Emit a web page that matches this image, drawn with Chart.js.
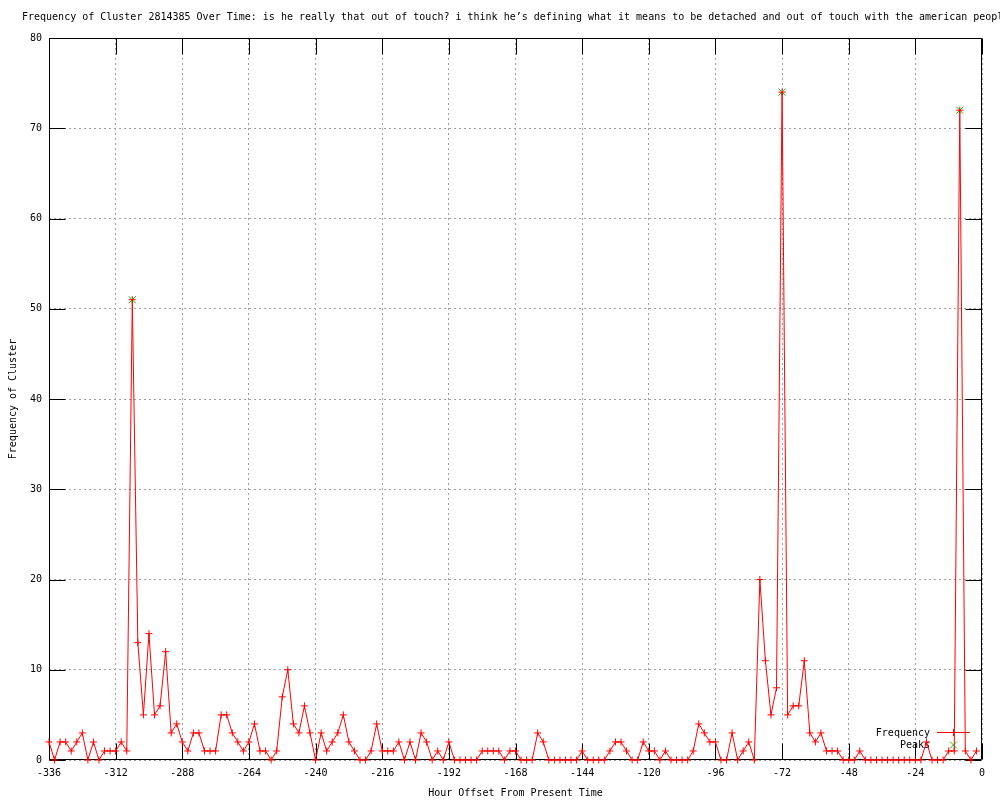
<!DOCTYPE html>
<html>
<head>
<meta charset="utf-8">
<title>Frequency of Cluster 2814385 Over Time</title>
<script src="https://cdn.jsdelivr.net/npm/chart.js@4/dist/chart.umd.min.js"></script>
<style>
    html, body { margin: 0; padding: 0; background: #ffffff; }
    #wrap { width: 1000px; height: 800px; }
</style>
</head>
<body>
<div id="wrap"><canvas id="freqChart" width="1000" height="800"></canvas></div>
<script>
const titleText = "Frequency of Cluster 2814385 Over Time: is he really that out of touch? i think he\u2019s defining what it means to be detached and out of touch with the american people";

// one sample every two hours
const hours = [
    -336, -334, -332, -330, -328, -326, -324, -322, -320, -318, -316, -314,
    -312, -310, -308, -306, -304, -302, -300, -298, -296, -294, -292, -290,
    -288, -286, -284, -282, -280, -278, -276, -274, -272, -270, -268, -266,
    -264, -262, -260, -258, -256, -254, -252, -250, -248, -246, -244, -242,
    -240, -238, -236, -234, -232, -230, -228, -226, -224, -222, -220, -218,
    -216, -214, -212, -210, -208, -206, -204, -202, -200, -198, -196, -194,
    -192, -190, -188, -186, -184, -182, -180, -178, -176, -174, -172, -170,
    -168, -166, -164, -162, -160, -158, -156, -154, -152, -150, -148, -146,
    -144, -142, -140, -138, -136, -134, -132, -130, -128, -126, -124, -122,
    -120, -118, -116, -114, -112, -110, -108, -106, -104, -102, -100, -98,
    -96, -94, -92, -90, -88, -86, -84, -82, -80, -78, -76, -74,
    -72, -70, -68, -66, -64, -62, -60, -58, -56, -54, -52, -50,
    -48, -46, -44, -42, -40, -38, -36, -34, -32, -30, -28, -26,
    -24, -22, -20, -18, -16, -14, -12, -10, -8, -6, -4, -2
];

const frequency = [
    2, 0, 2, 2, 1, 2, 3, 0, 2, 0, 1, 1,
    1, 2, 1, 51, 13, 5, 14, 5, 6, 12, 3, 4,
    2, 1, 3, 3, 1, 1, 1, 5, 5, 3, 2, 1,
    2, 4, 1, 1, 0, 1, 7, 10, 4, 3, 6, 3,
    0, 3, 1, 2, 3, 5, 2, 1, 0, 0, 1, 4,
    1, 1, 1, 2, 0, 2, 0, 3, 2, 0, 1, 0,
    2, 0, 0, 0, 0, 0, 1, 1, 1, 1, 0, 1,
    1, 0, 0, 0, 3, 2, 0, 0, 0, 0, 0, 0,
    1, 0, 0, 0, 0, 1, 2, 2, 1, 0, 0, 2,
    1, 1, 0, 1, 0, 0, 0, 0, 1, 4, 3, 2,
    2, 0, 0, 3, 0, 1, 2, 0, 20, 11, 5, 8,
    74, 5, 6, 6, 11, 3, 2, 3, 1, 1, 1, 0,
    0, 0, 1, 0, 0, 0, 0, 0, 0, 0, 0, 0,
    0, 0, 2, 0, 0, 0, 1, 1, 72, 1, 0, 1
];

const peakHours = [-306, -72, -8];
const peakValues = [51, 74, 72];

const xTickValues = [-336, -312, -288, -264, -240, -216, -192, -168, -144, -120, -96, -72, -48, -24, 0];
const yTickValues = [0, 10, 20, 30, 40, 50, 60, 70, 80];

const monoFont = "'DejaVu Sans Mono', monospace";
const red = "#ff0000";
const green = "#00c000";

Chart.defaults.font.family = monoFont;
Chart.defaults.font.size = 10;
Chart.defaults.color = "#000000";

// gnuplot look: full box, inward ticks, title and key drawn by hand
const gnuplotFrame = {
    id: "gnuplotFrame",
    beforeDatasetsDraw(chart) {
        const { ctx, chartArea: a, scales } = chart;
        const L = Math.round(a.left) + 0.5;
        const R = Math.round(a.right) - 0.5;
        const T = Math.round(a.top) + 0.5;
        const B = Math.round(a.bottom) - 0.5;
        const tick = 16;

        ctx.save();
        ctx.strokeStyle = "#000000";
        ctx.lineWidth = 1;
        ctx.beginPath();
        ctx.rect(L, T, R - L, B - T);

        xTickValues.forEach((v) => {
            const px = Math.round(scales.x.getPixelForValue(v)) + 0.5;
            ctx.moveTo(px, B);
            ctx.lineTo(px, B - tick);
            ctx.moveTo(px, T);
            ctx.lineTo(px, T + tick);
        });
        yTickValues.forEach((v) => {
            const py = Math.round(scales.y.getPixelForValue(v)) + 0.5;
            ctx.moveTo(L, py);
            ctx.lineTo(L + tick, py);
            ctx.moveTo(R, py);
            ctx.lineTo(R - tick, py);
        });
        ctx.stroke();

        ctx.font = "10px " + monoFont;
        ctx.fillStyle = "#000000";
        ctx.textBaseline = "middle";
        ctx.textAlign = "left";
        ctx.fillText(titleText, 22, 17);

        // key
        ctx.textAlign = "right";
        ctx.fillText("Frequency", 930, 733);
        ctx.fillText("Peaks", 930, 745);

        ctx.strokeStyle = red;
        ctx.beginPath();
        ctx.moveTo(937, 732.5);
        ctx.lineTo(970, 732.5);
        ctx.moveTo(953.5, 729);
        ctx.lineTo(953.5, 736);
        ctx.stroke();

        ctx.strokeStyle = green;
        ctx.beginPath();
        ctx.moveTo(950, 741.5);
        ctx.lineTo(957, 748.5);
        ctx.moveTo(957, 741.5);
        ctx.lineTo(950, 748.5);
        ctx.stroke();
        ctx.restore();
    }
};

const ctx = document.getElementById("freqChart").getContext("2d");
new Chart(ctx, {
    type: "line",
    data: {
        datasets: [
            {
                label: "Frequency",
                data: hours.map((h, i) => ({ x: h, y: frequency[i] })),
                borderColor: red,
                borderWidth: 1,
                pointStyle: "cross",
                pointRadius: 3.5,
                pointHoverRadius: 3.5,
                pointBorderColor: red,
                pointBorderWidth: 1,
                tension: 0,
                clip: false,
            },
            {
                label: "Peaks",
                data: peakHours.map((h, i) => ({ x: h, y: peakValues[i] })),
                showLine: false,
                pointStyle: "crossRot",
                pointRadius: 5,
                pointHoverRadius: 5,
                pointBorderColor: green,
                pointBorderWidth: 1,
                clip: false,
            },
        ],
    },
    options: {
        responsive: false,
        animation: false,
        events: [],
        layout: { padding: { top: 38, right: 18, left: 0, bottom: 0 } },
        plugins: {
            legend: { display: false },
            tooltip: { enabled: false },
            title: { display: false },
        },
        scales: {
            x: {
                type: "linear",
                min: -336,
                max: 0,
                afterBuildTicks: (s) => { s.ticks = xTickValues.map((v) => ({ value: v })); },
                afterFit: (s) => { s.height = 40; },
                ticks: { padding: 7, maxRotation: 0, autoSkip: false, color: "#000000" },
                grid: { color: "#a0a0a0", lineWidth: 1, drawTicks: false },
                border: { display: false, dash: [2, 3] },
                title: {
                    display: true,
                    text: "Hour Offset From Present Time",
                    color: "#000000",
                    padding: { top: 0, bottom: 1 },
                },
            },
            y: {
                min: 0,
                max: 80,
                afterBuildTicks: (s) => { s.ticks = yTickValues.map((v) => ({ value: v })); },
                afterFit: (s) => { s.width = 49; },
                ticks: { padding: 7, color: "#000000" },
                grid: { color: "#a0a0a0", lineWidth: 1, drawTicks: false },
                border: { display: false, dash: [2, 3] },
                title: {
                    display: true,
                    text: "Frequency of Cluster",
                    color: "#000000",
                    padding: { top: 7, bottom: 0 },
                },
            },
        },
    },
    plugins: [gnuplotFrame],
});
</script>
</body>
</html>
